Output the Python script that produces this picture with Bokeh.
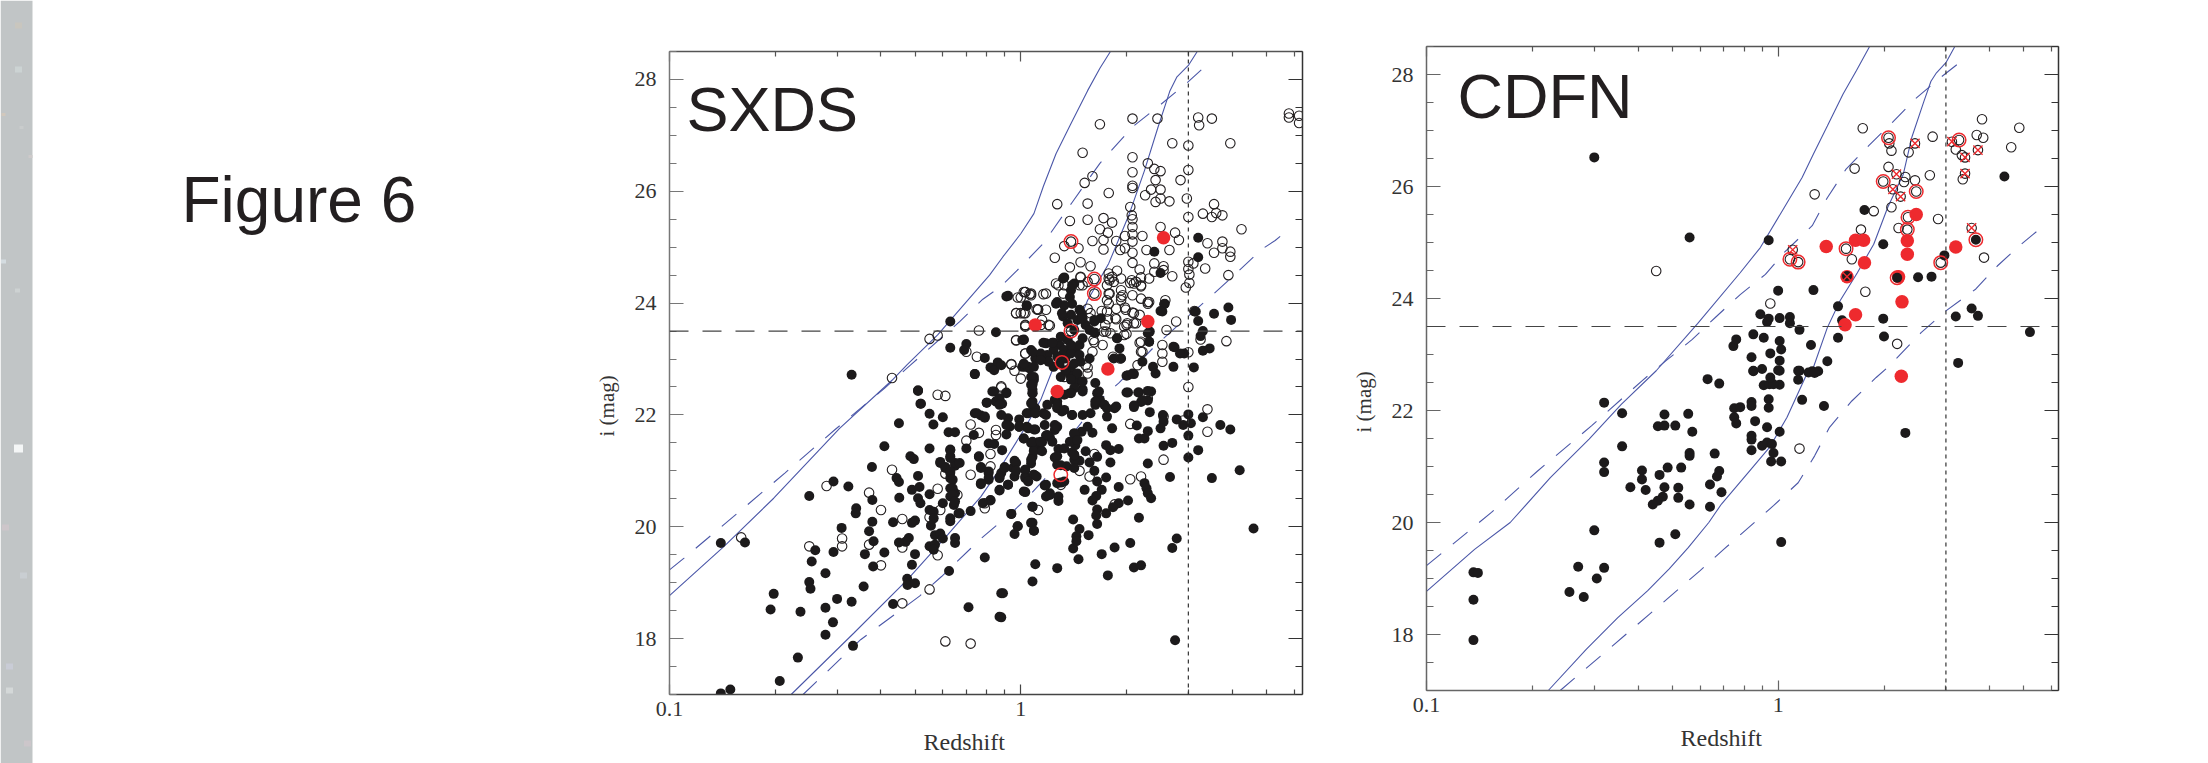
from bokeh.embed import file_html
from bokeh.resources import INLINE
from bokeh.plotting import figure
from bokeh.layouts import row, column
from bokeh.models import Range1d, FixedTicker, LogAxis, LinearAxis, Label, Span, CustomLabelingPolicy, Title
from bokeh.core.properties import value

# ---------- data: (redshift, i magnitude) ----------
sxds_filled = [
(.14,19.71),(.164,19.72),(.14,17.02),(.149,17.09),(.206,17.24),(.232,17.66),(.333,17.87),(.198,18.8),(.194,18.52),(.236,18.48),
(.25,19.01),(.252,18.89),(.278,18.55),(.292,18.29),(.278,18.07),(.3,18.71),(.33,18.66),(.357,18.93),(.433,18.62),(.26,19.58),
(.254,19.38),(.293,19.55),(.278,19.17),(.25,20.55),(.293,20.81),(.323,20.72),(.309,19.98),(.34,20.33),(.339,20.24),(.378,20.48),
(.377,21.07),(.409,21.44),(.378,20.09),(.37,19.92),(.381,19.74),(.36,19.51),(.38,19.29),(.409,19.54),(.433,20.08),(.451,20.52),
(.443,20.87),(.45,20.8),(.45,21.85),(.33,22.72),(.51,22.44),(.518,22.2),(.55,22.02),(.564,21.83),(.6,21.96),(.623,21.69),
(.65,21.69),(.55,21.4),(.63,21.38),(.63,21.26),(.485,21.26),(.496,21.21),(.59,21.16),(.61,21.07),(.65,21.09),(.63,20.96),
(.63,20.87),(.51,20.91),(.49,20.66),(.515,20.71),(.51,20.51),(.518,20.42),(.55,20.58),(.6,20.42),(.63,20.69),(.63,20.54),
(.65,20.6),(.645,20.39),(.665,20.24),(.55,20.3),(.565,20.27),(.565,20.15),(.555,20.02),(.63,20.15),(.63,20.1),(.5,20.11),
(.49,20.07),(.48,19.8),(.47,19.73),(.45,19.72),(.57,19.85),(.59,19.88),(.6,19.79),(.65,19.8),(.65,19.71),(.55,19.65),
(.57,19.68),(.565,19.59),(.5,19.51),(.49,19.32),(.475,19.07),(.476,18.96),(.5,18.99),(.625,19.21),(.72,20.28),(.77,21.07),
(.76,21.25),(.7,21.4),(.735,21.64),(.74,22.03),(.77,21.99),(.79,21.95),(.8,22.22),(.84,22.42),(.74,22.73),(.81,21.49),
(.84,21.48),(.81,20.96),(.81,20.87),(.77,20.76),(.82,20.47),(.87,20.65),(.87,20.89),(.79,19.45),(.71,18.56),(.87,18.39),
(.88,18.81),(.85,22.24),(2.75,17.97),(4.6,19.97),(4.2,21.01),(3.5,20.87),(2.66,20.89),(3.0,21.24),(3.2,21.37),(3.0,21.63),
(2.9,21.82),(3.05,21.85),(3.0,22.01),(2.78,21.92),(3.3,21.96),(3.7,21.82),(3.95,21.74),(2.54,22.0),(2.55,21.88),(2.5,21.76),
(2.7,21.5),(2.55,21.45),(2.3,21.13),(2.17,21.58),(2.25,21.58),(2.3,21.71),(2.14,21.81),(2.33,22.05),(2.1,22.14),(2.2,22.23),
(2.3,22.26),(2.35,22.42),(2.17,22.4),(2.0,22.4),(2.02,22.71),(2.1,22.73),(2.25,20.78),(2.28,20.69),(2.3,20.6),(2.35,20.51),
(2.17,20.16),(2.02,20.47),(1.9,20.42),(1.83,20.35),(1.75,20.24),(1.9,20.71),(1.7,20.66),(1.75,20.88),(1.65,20.81),(1.62,21.0),
(1.64,20.55),(1.6,20.47),(1.65,20.31),(1.64,20.2),(1.65,20.05),(1.8,21.15),(1.57,21.15),(1.52,20.66),(1.65,21.25),(1.53,21.35),
(1.9,21.39),(1.8,21.37),(1.75,21.46),(1.82,21.76),(1.47,21.18),(1.4,21.33),(1.42,21.2),(1.35,21.08),(1.3,21.1),(1.28,20.46),
(1.28,20.54),(1.21,20.6),(1.18,20.54),(1.17,20.74),(1.3,20.79),(1.03,20.62),(1.08,20.36),(.94,20.23),(.98,20.01),(.96,19.87),
(1.07,20.07),(1.09,19.93),(.89,18.81),(.88,18.38),(1.08,19.02),(1.1,19.33),(1.27,19.26),(1.46,19.42),(1.41,19.61),(1.56,19.85),
(1.41,20.13),(1.47,19.96),(1.44,19.83),(1.44,19.74),(1.7,19.51),(1.85,19.63),(2.05,19.71),(2.1,19.27),(2.2,19.31),(1.77,19.13),
(2.7,19.62),(2.78,19.79),(1.65,22.39),(1.68,22.27),(1.63,22.18),(1.58,22.03),(1.5,22.0),(1.4,22.0),(1.31,22.06),(1.25,22.27),
(1.27,22.15),(1.38,22.39),(1.5,22.46),(1.45,22.6),(1.38,22.72),(1.08,22.56),(1.08,22.39),(1.08,22.18),(1.05,22.03),(1.1,22.03),
(.99,21.92),(.99,21.79),(1.04,21.79),(1.09,21.74),(1.16,22.03),(1.17,21.82),(1.25,21.82),(1.25,21.73),(1.18,21.63),(1.02,21.58),
(1.07,21.5),(1.12,21.51),(1.15,21.51),(1.14,21.37),(1.21,21.6),(1.09,21.37),(1.08,21.25),(1.07,21.13),(1.28,21.39),(1.25,21.24),
(1.42,21.67),(1.49,21.7),(1.55,21.79),(1.6,21.68),(1.43,21.46),(1.42,21.28),(.96,21.18),(.95,21.05),(1.03,21.02),(1.03,20.9),
(1.09,20.93),(.96,20.9),(.92,20.75),(.9,21.07),(.88,20.96),(.91,22.39),(.885,22.2),(.92,21.94),(.93,21.79),(.91,21.65),
(.885,21.37),(1.73,22.18),(1.85,22.12),(1.76,21.97),(1.02,23.35),(1.07,23.16),(1.1,23.01),(1.01,22.86),(1.06,22.83),(1.18,23.28),
(1.24,23.29),(1.29,23.25),(1.36,23.34),(1.24,23.16),(1.19,23.07),(1.14,23.1),(1.43,23.16),(1.47,23.25),(1.27,24.02),(1.42,24.35),
(1.33,24.46),(1.39,24.23),(1.4,23.99),(1.33,23.96),(1.47,23.88),(1.39,23.79),(1.45,23.7),(1.53,23.61),(1.62,23.67),(1.69,23.73),
(1.57,23.52),(1.63,23.47),(1.5,23.37),(1.33,23.16),(1.39,23.1),(1.47,23.07),(1.34,23.01),(1.29,22.92),(1.39,22.86),(1.48,22.95),
(1.57,23.01),(1.45,22.74),(1.5,22.6),(1.39,22.63),(1.3,22.68),(1.42,22.48),(1.5,22.42),(1.63,22.57),(1.67,22.42),(1.63,22.24),
(1.39,22.39),(1.33,22.36),(1.09,22.63),(1.08,22.45),(1.08,22.24),(1.1,22.12),(1.27,22.24),(1.27,22.12),(1.88,23.37),(1.91,23.19),
(1.93,23.01),(1.84,23.01),(2.0,22.7),(2.08,22.74),(2.22,22.95),(2.38,22.86),(2.42,22.74),(2.72,22.86),(2.74,23.21),(2.92,23.1),
(2.32,23.31),(2.3,23.46),(2.53,23.85),(2.57,23.99),(3.13,23.85),(3.11,22.85),(2.02,22.4),(2.16,22.4),(2.3,22.43),(2.22,22.26),
(2.1,22.17),(1.76,22.12),(1.87,22.15),(.92,24.13),(1.32,24.44),(3.2,25.17),(3.2,24.82),(2.4,24.92),(2.5,24.54),(2.56,23.98),
(2.5,23.86),(3.15,23.85),(3.2,23.68),(3.55,23.81),(3.9,23.92),(3.97,23.7),(3.3,23.5),(3.25,23.41),(3.45,23.19),(3.3,23.15),
(1.04,23.95),(1.26,23.99),(1.4,24.32),(1.38,24.11),(1.32,23.76),(1.49,23.82),(1.62,23.7),(2.33,23.49),(2.32,23.31),(2.84,23.1),
(2.72,23.22),(1.88,23.37),(1.62,23.47),(1.01,23.34),(1.16,23.29),(1.23,23.29),(.91,24.12),(1.04,23.96),(.63,23.67),(.85,23.48),
(.63,23.2),(.7,23.27),(.69,23.16),(1.02,23.34),(.79,23.02),(.82,22.85),(.86,22.94),(.84,22.8),(.88,22.89),(.74,22.73),
(.51,22.43),(.52,22.2),(.83,22.42),(.91,22.4),(.8,22.22),(.85,22.24),(.87,22.3),(1.03,22.86),(1.05,22.86),(1.08,23.13),
(1.09,22.68),(1.07,22.54),(1.08,22.39),(1.07,22.21),
(.75,22.03),(.79,21.97),(.87,22.18),(.88,22.0),(.91,21.82),(.99,21.79),(1.04,22.03),(1.1,22.03),(1.19,22.18),(1.18,22.0),
(1.27,22.18),(1.33,22.09),(1.4,22.0),(1.27,21.79),(1.42,21.67),(1.38,21.52),(1.45,21.55),(1.33,21.4),(1.27,21.26),(1.42,21.29),
(1.05,21.76),(1.1,21.74),(1.02,21.58),(1.08,21.52),(1.14,21.52),(1.19,21.64),(1.23,21.52),(1.09,21.35),(1.15,21.35),(1.07,21.2),
(1.03,21.02),(1.03,20.87),(1.09,20.93),(1.11,20.9),(1.05,20.81),(.97,21.14),(.97,21.0),(.9,21.05),(.92,20.75),(.87,20.87),
(.87,20.66),(.81,20.99),(.81,20.84),(.77,21.05),(.77,20.78),(.76,21.26),(.59,21.14),(.61,21.05),(.65,21.14),(.67,21.14),
(.63,21.37),(.63,21.23),(.63,20.99),(.64,20.84),(.64,20.69),(.64,20.57),(.65,20.45),(.67,20.24),(.82,20.48),(.78,20.42),
(1.02,20.63),(1.18,20.75),(1.21,20.57),(1.08,20.36),(.94,20.23),(.98,20.01),(1.08,20.07),(1.09,19.93),(1.27,21.11),(1.27,20.78),
(1.42,21.05),(1.33,20.81),(1.36,23.64),(1.31,23.82),(1.5,23.73),(1.42,23.52),(1.3,23.4),(1.39,23.25),(1.31,23.07),(1.42,22.92),
(1.34,22.8),(1.27,23.04),(1.24,22.86),(1.2,22.95),(1.02,22.92),(1.09,22.86),(1.14,22.98),(1.07,22.68),(1.08,22.54)]

sxds_open = [
(.43,22.66),(.58,22.36),(.61,22.34),(.28,20.73),(.43,21.02),(.37,20.61),(.4,20.3),(.46,20.14),(.25,19.65),(.31,19.79),
(.31,19.65),(.16,19.81),(.37,19.68),(.46,19.63),(.4,19.31),(.58,19.49),(.55,18.88),(.46,18.63),(.61,17.95),(.72,17.91),
(.58,20.68),(.55,20.17),(.59,20.3),(.66,20.57),(.61,20.95),(.72,20.93),(.72,21.83),(.76,21.68),(.7,21.54),(.82,21.3),
(.82,21.08),(.85,21.73),(.85,21.64),(.79,20.42),(.79,20.33),(.88,22.51),(5.8,27.39),(5.8,27.32),(6.2,27.35),(6.2,27.22),
(1.68,27.2),(2.08,27.3),(2.45,27.3),(3.2,27.32),(3.22,27.18),(3.5,27.3),(2.7,26.86),(3.0,26.82),(3.95,26.86),(1.5,26.69),
(2.08,26.61),(2.3,26.5),(2.4,26.4),(2.5,26.36),(3.0,26.38),(2.08,26.34),(1.6,26.27),(1.52,26.15),(2.08,26.1),(2.08,26.06),
(2.42,26.2),(2.85,26.2),(2.35,26.03),(2.5,26.03),(1.78,25.97),(2.26,25.93),(2.5,25.87),(2.42,25.81),(2.65,25.82),(2.97,25.87),
(1.27,25.77),(1.55,25.78),(2.05,25.72),(2.07,25.57),(3.0,25.54),(3.3,25.6),(3.55,25.77),(3.6,25.61),(3.5,25.54),(3.75,25.57),
(4.25,25.32),(1.38,25.47),(1.55,25.49),(1.72,25.52),(1.82,25.44),(2.08,25.5),(2.08,25.36),(1.68,25.32),(1.77,25.26),(2.5,25.36),
(2.75,25.26),(2.82,25.13),(2.08,25.23),(1.98,25.2),(2.22,25.2),(1.6,25.11),(1.72,25.13),(1.87,25.11),(1.92,24.95),(2.08,25.1),
(1.98,24.98),(2.08,24.9),(2.28,24.95),(2.65,24.95),(1.33,25.02),(1.46,24.98),(1.72,24.96),(3.4,25.07),(3.75,25.1),(3.55,24.9),
(3.75,24.98),(3.95,24.92),(3.95,24.83),(1.25,24.81),(1.48,24.73),(1.58,24.66),(1.38,24.64),(2.08,24.72),(2.18,24.6),(2.4,24.71),
(2.4,24.56),(2.55,24.66),(2.55,24.59),(3.0,24.74),(3.0,24.61),(3.1,24.71),(3.35,24.62),(3.02,24.51),(2.7,24.48),(3.9,24.5),
(2.2,24.46),(2.32,24.44),(1.78,24.53),(1.88,24.58),(1.78,24.44),(1.84,24.38),(1.93,24.44),(2.05,24.36),(2.1,24.35),(2.2,24.3),
(2.95,24.28),(3.02,24.36),(1.02,24.2),(.98,24.1),(1.07,24.14),(1.16,24.16),(1.28,24.32),(1.48,24.46),(1.32,24.17),(1.5,24.32),
(1.78,24.17),(1.93,24.23),(1.93,24.11),(2.08,24.14),(2.2,24.08),(2.3,24.02),(2.58,24.05),(1.78,23.99),(1.87,23.9),(1.98,23.92),
(2.08,23.83),(2.18,23.79),(1.7,23.86),(.97,23.82),(1.02,23.82),(1.12,23.89),(1.15,23.7),(1.21,23.6),(1.03,23.6),(1.77,23.71),
(1.87,23.71),(2.1,23.64),(2.0,23.61),(2.77,23.67),(3.12,23.86),(2.6,23.52),(1.75,23.49),(2.0,23.45),(3.25,23.35),(3.85,23.32),
(2.18,23.29),(2.22,23.13),(.97,23.33),(1.03,23.1),(.94,22.9),(3.0,23.12),(2.53,23.25),(2.53,23.1),(1.83,23.04),(1.92,23.01),
(2.15,22.89),(2.53,22.95),(1.62,23.3),(1.55,22.85),(.55,23.36),(.58,23.42),(.76,23.51),(.75,23.04),(.7,23.13),(.94,22.91),
(.96,22.79),(1.0,22.65),(.88,22.49),(.97,23.34),(1.03,23.1),(1.03,23.61),(1.03,24.2),(1.0,24.1),(1.06,24.16),(.97,23.82),
(1.0,23.82),(1.03,23.82),(1.11,23.89),(2.3,22.3),(2.05,21.84),(2.55,21.97),(3.0,22.5),(3.4,22.1),(2.9,21.9),(3.4,21.7),
(2.55,21.2),(2.2,20.9),(1.57,20.9),(1.47,21.0),(1.3,20.75),(1.85,20.4),(2.05,20.85),(1.62,21.3),(1.12,20.3),
(1.26,24.35),(1.33,24.32),(1.18,24.17),(1.03,24.2),(1.07,24.17),(1.12,23.88),(1.18,23.88),(1.14,23.61),(1.2,23.61),(1.03,23.58),
(1.48,24.47),(1.55,24.38),(1.47,24.32),(1.79,24.41),(1.76,24.32),(1.82,24.47),(1.95,24.14),(1.93,24.05),(1.76,24.05),(1.79,24.17),
(1.55,23.9),(1.58,23.82),(1.57,23.73),(1.76,23.85),(1.86,23.73),(1.99,23.88),(2.1,23.82),(1.97,23.58),(1.74,23.61),(1.72,23.49),
(1.8,23.46),(1.97,23.43),(2.07,24.41),(2.13,24.38),(2.2,24.32),(2.32,24.02),(2.3,23.99),(2.13,23.64),(2.01,23.64),(2.2,23.31),
(2.2,23.13),(1.61,23.34),(1.6,23.13),(1.71,23.25),(1.53,22.89),(1.55,22.74),(1.33,22.68),
(1.39,25.1),(1.62,24.43),(1.62,24.17),(1.39,23.5)]

sxds_red = [(1.1,23.61),(2.3,23.67),(1.77,22.82),(1.27,22.42),(2.55,25.17)]
sxds_rings = [(1.39,25.1),(1.62,24.43),(1.62,24.17),(1.39,23.5),(1.31,22.94),(1.3,20.93)]

cdfn_filled = [
(.94,25.04),(1.0,24.14),(1.26,24.15),(.89,23.72),(.94,23.64),(.93,23.58),(1.01,23.65),(1.08,23.67),(1.08,23.56),(1.15,23.44),
(.85,23.36),(.91,23.3),(1.01,23.24),(1.02,23.09),(.95,23.02),(1.01,22.89),(.84,22.95),(1.24,23.17),(1.48,23.86),(1.52,23.61),
(1.48,23.3),(1.38,22.88),(1.99,23.64),(2.0,23.32),(1.76,25.58),(1.99,24.97),(2.5,24.38),(2.73,24.39),(2.97,24.77),(3.2,23.68),
(3.55,23.82),(3.7,23.69),(5.2,23.4),(3.25,22.85),(4.4,26.18),(.85,22.71),(.9,22.74),(1.0,22.72),(1.15,22.71),(1.25,22.7),
(1.3,22.7),(.3,26.52),(.56,25.09),(.746,23.15),(.76,23.27),(.136,19.11),(.14,19.1),(.136,18.62),(.136,17.9),(.255,18.76),
(.28,18.67),(.27,19.21),(.32,19.19),(.305,19.0),(.3,19.86),(.46,19.64),(.51,19.79),(1.02,19.65),(.32,22.14),(.36,21.95),
(.36,21.36),(.32,21.07),(.32,20.9),(.38,20.63),(.41,20.93),(.41,20.77),(.42,20.58),(.46,20.85),(.485,20.98),(.53,20.98),
(.475,20.63),(.47,20.46),(.455,20.39),(.44,20.32),(.52,20.62),(.52,20.44),(.56,20.32),(.64,20.28),(.64,20.68),(.69,20.54),
(.68,20.92),(.67,20.82),(.66,21.23),(.57,21.62),(.56,21.24),(.56,21.19),(.555,21.94),(.475,21.93),(.51,21.73),(.455,21.72),
(.475,21.73),(.75,22.04),(.78,22.06),(.75,21.88),(.76,21.77),(.84,22.15),(.84,22.08),(.86,21.81),(.93,21.7),(.94,22.2),
(.94,22.05),(.84,21.55),(.84,21.48),(.84,21.29),(.9,21.37),(.93,21.43),(.96,21.4),(.97,21.24),(.955,21.09),(1.02,21.09),
(1.01,21.62),(1.17,22.19),(1.35,22.08),(2.3,21.6),(1.14,22.55),(1.01,22.46),(.91,22.45),(.945,22.47),(.97,22.47),(.95,22.59),
(.63,22.56),(.68,22.48),(.85,22.7),(1.01,22.71),(1.14,22.71),(1.22,22.68),(1.27,22.67)]
cdfn_filled_on_red = [(3.65,25.05),(2.18,24.37),(1.57,24.4)]

cdfn_open = [
(1.74,27.04),(2.06,26.87),(2.07,26.77),(2.1,26.64),(2.35,26.61),(2.75,26.89),(2.45,26.77),(1.65,26.32),(2.06,26.35),(2.3,26.17),
(2.28,26.08),(2.45,26.11),(2.7,26.2),(1.99,26.09),(2.47,25.91),(1.27,25.86),(2.1,25.63),(1.87,25.56),(2.34,25.45),(1.72,25.23),
(2.2,25.26),(2.33,25.23),(2.85,25.42),(1.56,24.89),(1.62,24.7),(1.1,24.87),(1.08,24.7),(1.14,24.65),(1.77,24.12),(.95,23.91),
(2.18,23.19),(2.9,24.64),(3.2,26.66),(3.12,26.8),(3.27,26.83),(3.33,26.56),(3.4,26.52),(3.7,26.65),(3.67,26.92),(3.83,26.87),
(3.8,27.2),(4.85,27.05),(4.6,26.7),(3.4,26.23),(3.35,26.13),(3.55,25.26),(3.85,24.73),(2.17,26.22),(2.12,25.95),(2.23,25.82),
(.45,24.49),(1.15,21.32)]

cdfn_red = [(1.37,24.93),(1.66,25.04),(1.75,25.04),(1.76,24.64),(1.57,24.39),(2.2,24.39),(2.25,23.94),(1.66,23.71),(1.55,23.53),
(2.47,25.5),(2.33,25.03),(2.33,24.79),(3.2,24.92),(2.24,22.61)]
cdfn_rings = [(2.06,26.87),(1.99,26.09),(2.47,25.91),(2.34,25.45),(2.33,25.23),(1.56,24.89),(1.08,24.7),(1.14,24.65),(2.9,24.64),
(3.27,26.83),(3.65,25.05),(2.18,24.37)]
cdfn_crosses = [(1.10,24.87),(1.57,24.39),(2.17,26.22),(2.12,25.95),(2.23,25.82),(2.45,26.77),(3.12,26.8),(3.4,26.52),(3.7,26.65),
(3.4,26.23),(3.55,25.26)]

sxds_solid_upper = [(.1,18.77),(.143,19.65),(.198,20.51),(.305,21.76),(.43,22.62),(.475,22.9),(.58,23.43),(.815,24.5),(.89,24.83),
(1.0,25.24),(1.09,25.6),(1.16,26.09),(1.26,26.67),(1.38,27.17),(1.55,27.8),(1.68,28.2),(1.8,28.5)]
sxds_solid_lower = [(.222,17.0),(.335,18.1),(.475,19.05),(.62,19.86),(.77,20.54),(.856,20.96),(1.02,21.73),(1.14,22.27),(1.23,22.8),
(1.4,23.37),(1.55,24.05),(1.78,24.71),(2.03,25.57),(2.25,26.37),(2.46,27.15),(2.66,27.8),(2.78,28.04),(3.0,28.25),(3.18,28.5)]
sxds_dash_upper = [(.1,19.23),(.11,19.44),(.152,20.18),(.213,20.96),(.295,21.73),(.41,22.48),(.485,22.89),(.67,23.67),(.78,24.07),
(.875,24.29),(1.0,24.65),(1.16,25.07),(1.4,25.8),(1.68,26.5),(2.08,27.15),(2.5,27.55),(2.95,27.92),(3.45,28.31)]
sxds_dash_lower = [(.24,17.0),(.35,17.98),(.515,18.76),(.595,19.11),(.768,19.78),(.96,20.3),(1.03,20.48),(1.2,20.93),(1.3,21.4),
(1.55,22.0),(1.74,22.36),(1.9,22.57),(2.4,23.22),(3.0,23.77),(3.55,24.17),(4.15,24.56),(4.5,24.77),(4.9,24.98),(5.3,25.12),(5.8,25.32)]

cdfn_solid_upper = [(.1,18.77),(.137,19.52),(.173,20.0),(.225,20.8),(.29,21.49),(.358,22.11),(.45,22.71),(.59,23.55),(.78,24.46),
(.89,24.91),(1.04,25.62),(1.17,26.16),(1.26,26.58),(1.38,27.08),(1.53,27.65),(1.67,28.07),(1.82,28.5)]
cdfn_solid_lower = [(.222,17.0),(.285,17.74),(.35,18.3),(.425,18.78),(.49,19.17),(.555,19.55),(.635,20.0),(.69,20.33),(.845,20.98),
(.945,21.34),(1.06,21.88),(1.2,22.62),(1.25,22.71),(1.38,23.48),(1.5,23.96),(1.68,24.46),(1.87,24.97),(2.05,25.63),(2.27,26.22),
(2.4,26.88),(2.6,27.53),(2.72,27.88),(2.82,28.03),(3.0,28.21),(3.18,28.5)]
cdfn_dash_upper = [(.1,19.23),(.1186,19.61),(.153,20.18),(.207,20.92),(.295,21.73),(.41,22.53),(.48,22.89),(.57,23.27),(.665,23.67),
(.78,24.07),(.92,24.43),(1.04,24.82),(1.25,25.3),(1.38,25.8),(1.56,26.31),(1.81,26.73),(2.11,27.14),(2.45,27.56),(2.9,27.95),(3.45,28.32)]
cdfn_dash_lower = [(.24,17.0),(.33,17.74),(.43,18.36),(.6,19.14),(.7,19.52),(.97,20.3),(1.14,20.71),(1.27,21.19),(1.4,21.7),(1.62,22.17),
(1.9,22.59),(2.05,22.77),(2.55,23.39),(3.0,23.78),(3.65,24.17),(4.2,24.58),(4.85,24.94),(5.3,25.14),(5.75,25.32)]

x_major = [0.1, 1]
x_minor = [.2,.3,.4,.5,.6,.7,.8,.9,2,3,4,5,6]
y_major = [18,20,22,24,26,28]
y_minor = [17,17.5,18.5,19,19.5,20.5,21,21.5,22.5,23,23.5,24.5,25,25.5,26.5,27,27.5,28.5]
band_specks = [(18,448,"#f4f6f6",9),(18,25,"#c9c6be",7),(18,69,"#ccd3d3",7),(3,114,"#d2c8bc",4),(21,127,"#c9cccc",4),(30,156,"#cdcaca",4),
(3,261,"#d4dcE0",5),(17,290,"#cdd2d2",5),(5,527,"#cdc6ca",7),(23,575,"#c9ced2",7),(9,666,"#c9ccd6",7),(9,690,"#d4d8d8",7),(27,743,"#ccc6ca",7)]

INK = "#231f20"
BLUE = "#4b57a8"
RED = "#ee2a2e"
SERIF = "Liberation Serif"
SANS = "Liberation Sans"

def xs(v): return [a[0] for a in v]
def ys(v): return [a[1] for a in v]

def panel(width, left, right, top, bottom, xmax, name, name_at,
          upper, lower, dupper, dlower, axis_left, axis_bottom):
    p = figure(width=width, height=763, x_axis_type="log", output_backend="svg", toolbar_location=None,
               x_range=Range1d(0.1, xmax), y_range=Range1d(17, 28.5),
               min_border_left=left, min_border_right=right, min_border_top=top, min_border_bottom=bottom,
               background_fill_color="white", border_fill_color="white", outline_line_color=None, align="start")
    p.grid.visible = False
    xt = FixedTicker(ticks=x_major, minor_ticks=x_minor)
    yt = FixedTicker(ticks=y_major, minor_ticks=y_minor)
    def style_x(a, col):
        a.ticker = xt
        a.major_tick_in, a.major_tick_out, a.minor_tick_in, a.minor_tick_out = 10, 0, 5, 0
        a.axis_line_color = col; a.major_tick_line_color = col; a.minor_tick_line_color = col
        a.axis_line_width = 1.5; a.major_tick_line_width = 1.2; a.minor_tick_line_width = 1.2
    def style_y(a, col):
        a.ticker = yt
        a.major_tick_in, a.major_tick_out, a.minor_tick_in, a.minor_tick_out = 14, 0, 7, 0
        a.axis_line_color = col; a.major_tick_line_color = col; a.minor_tick_line_color = col
        a.axis_line_width = 1.5; a.major_tick_line_width = 1.2; a.minor_tick_line_width = 1.2
    ax = p.xaxis[0]; style_x(ax, axis_bottom)
    ax.major_label_overrides = {0.1: "0.1", 1: "1"}
    ax.major_label_standoff = 7
    ay = p.yaxis[0]; style_y(ay, axis_left)
    ay.major_label_standoff = 13
    for a in (ax, ay):
        a.major_label_text_font = SERIF
        a.major_label_text_font_size = "22px"
        a.major_label_text_color = "#333333"
    no_labels = CustomLabelingPolicy(code="return []")
    top_ax = LogAxis(major_label_policy=no_labels); style_x(top_ax, "#555555")
    right_ax = LinearAxis(major_label_policy=no_labels); style_y(right_ax, "#333333")
    p.add_layout(top_ax, "above")
    p.add_layout(right_ax, "right")

    p.line(xs(upper), ys(upper), line_color=BLUE, line_width=1.1)
    p.line(xs(lower), ys(lower), line_color=BLUE, line_width=1.1)
    p.line(xs(dupper), ys(dupper), line_color=BLUE, line_width=1.1, line_dash="19 15")
    p.line(xs(dlower), ys(dlower), line_color=BLUE, line_width=1.1, line_dash="19 15")
    p.add_layout(Span(location=23.5, dimension="width", line_color="#444444", line_width=1.2, line_dash="19 14"))
    p.add_layout(Span(location=3, dimension="height", line_color="#333333", line_width=1.2, line_dash="4 4"))

    p.add_layout(Label(x=name_at[0], y=name_at[1], text=name, text_font=SANS, text_font_size="63px",
                       text_color=INK, text_baseline="alphabetic", text_align="left"))
    p.add_layout(Title(text="i (mag)", align="left", offset=258, standoff=26, text_font=SERIF, text_font_size="21px",
                       text_font_style="normal", text_color="#333333"), "left")
    p.add_layout(Title(text="Redshift", align="left", offset=254, standoff=17, text_font=SERIF, text_font_size="24px",
                       text_font_style="normal", text_color="#333333"), "below")
    return p

def dots(p, v, color, size):
    p.scatter(xs(v), ys(v), marker="circle", size=size, fill_color=color, line_color=color, line_width=0)

def opens(p, v):
    p.scatter(xs(v), ys(v), marker="circle", size=9.5, fill_color=None, line_color=INK, line_width=1.1)

def rings(p, v):
    p.scatter(xs(v), ys(v), marker="circle", size=13.5, fill_color=None, line_color=RED, line_width=1.5)

# page panel with the grey strip and the figure title
p0 = figure(width=560, height=763, x_range=Range1d(0, 560), y_range=Range1d(763, 0), output_backend="svg",
            toolbar_location=None, min_border=0, outline_line_color=None, x_axis_location=None, y_axis_location=None, align="start")
p0.grid.visible = False
p0.quad(left=[0], right=[32], top=[0], bottom=[763], fill_color="#c1c5c6", line_color=None)
p0.rect(x=[s[0] for s in band_specks], y=[s[1] for s in band_specks], width=[s[3] for s in band_specks],
        height=[s[3]-1 for s in band_specks], fill_color=[s[2] for s in band_specks], line_color=None)
p0.text(x=[181], y=[199], text=["Figure 6"], text_font=value(SANS), text_font_size="64px", text_color=INK,
        text_baseline="alphabetic", text_align="left")

p1 = panel(770, 109, 28, 51, 68, 6.34, "SXDS", (.1117, 27.48),
           sxds_solid_upper, sxds_solid_lower, sxds_dash_upper, sxds_dash_lower, "#777777", "#444444")
opens(p1, sxds_open)
dots(p1, sxds_filled, "#1c1a1b", 10)
dots(p1, sxds_red, RED, 13.5)
rings(p1, sxds_rings)

p2 = panel(878, 96, 150, 46, 73, 6.27, "CDFN", (.1225, 27.62),
           cdfn_solid_upper, cdfn_solid_lower, cdfn_dash_upper, cdfn_dash_lower, "#666666", "#666666")
opens(p2, cdfn_open)
dots(p2, cdfn_filled, "#1c1a1b", 10)
dots(p2, cdfn_red, RED, 13.5)
dots(p2, cdfn_filled_on_red, "#1c1a1b", 10)
rings(p2, cdfn_rings)
p2.scatter(xs(cdfn_crosses), ys(cdfn_crosses), marker="x", size=13, line_color=RED, line_width=1.4)

root = row(column(p0), column(p1), column(p2), spacing=0)
open("out.html", "w").write(file_html(root, INLINE))
